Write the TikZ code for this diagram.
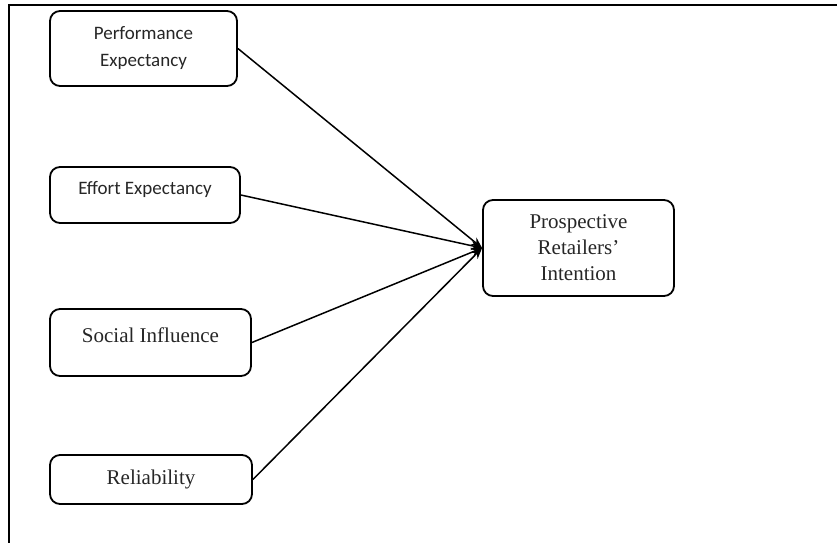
\documentclass[tikz,border=0pt]{standalone}
\usepackage{fontspec}
\setmainfont{Liberation Serif}
\newfontfamily\calib{Carlito}
\usetikzlibrary{arrows.meta}
\tikzset{
  box/.style={draw=black, line width=1.8pt, rounded corners=10pt, inner sep=0pt, align=center, text=black!85},
  sansbox/.style={box, font=\calib\fontsize{19}{27}\selectfont},
  serifbox/.style={box, font=\fontsize{21}{26}\selectfont},
  arr/.style={draw=black, line width=1.5pt, -{Stealth[length=11pt,width=9pt]}},
  frame/.style={draw=black, line width=2pt}
}
\begin{document}
\begin{tikzpicture}[x=1pt,y=-1pt]
\useasboundingbox (0,0) rectangle (837,542);
\coordinate (fa) at (9,560);
\coordinate (fb) at (9,4.5);
\coordinate (fc) at (860,4.5);
\draw[frame] (fa) -- (fb) -- (fc);
\node[sansbox, minimum width=187pt, minimum height=75pt] (pe) at (143.5,48.5) {Performance\\Expectancy};
\node[sansbox, minimum width=190pt, minimum height=56pt, text depth=14pt] (ee) at (145,195) {Effort Expectancy};
\node[serifbox, minimum width=201pt, minimum height=67pt, text depth=14pt] (si) at (150.5,342.5) {Social Influence};
\node[serifbox, minimum width=202pt, minimum height=49pt] (re) at (151,479.5) {Reliability};
\node[serifbox, minimum width=191pt, minimum height=96pt] (pri) at (578.5,248) {Prospective\\Retailers'\\Intention};
\draw[arr] (pe.east) -- (pri.west);
\draw[arr] (ee.east) -- (pri.west);
\draw[arr] (si.east) -- (pri.west);
\draw[arr] (re.east) -- (pri.west);
\end{tikzpicture}
\end{document}
